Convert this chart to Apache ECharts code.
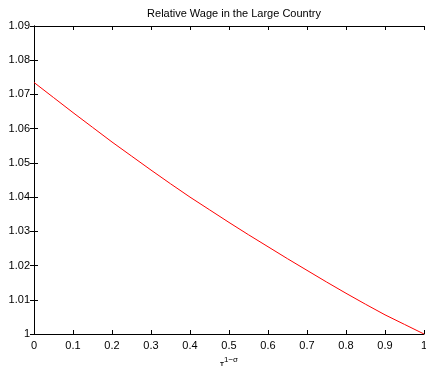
<!DOCTYPE html>
<html>
<head>
<meta charset="utf-8">
<script src="https://cdn.jsdelivr.net/npm/echarts@6/dist/echarts.min.js"></script>
<style>
html,body{margin:0;padding:0;background:#fff;}
#c{width:426px;height:366px;}
</style>
</head>
<body>
<div id="c"></div>
<script>
const titleText = "Relative Wage in the Large Country";
const xValues = [0, 0.05, 0.1, 0.15, 0.2, 0.25, 0.3, 0.35, 0.4, 0.45, 0.5, 0.55, 0.6, 0.65, 0.7, 0.75, 0.8, 0.85, 0.9, 0.95, 1.0];
const wageValues = [1.0735, 1.0691, 1.0647, 1.0604, 1.0561, 1.0520, 1.0479, 1.0439, 1.0400, 1.0363, 1.0326, 1.0290, 1.0255, 1.0220, 1.0186, 1.0152, 1.0119, 1.0087, 1.0056, 1.0028, 1.0000];
const xMin = 0, xMax = 1, xStep = 0.1;
const yMin = 1, yMax = 1.09, yStep = 0.01;

const chart = echarts.init(document.getElementById('c'), null, {renderer: 'canvas'});
const font = 'Liberation Sans, Arial, Helvetica, sans-serif';
const lineStyle = {color: '#000', width: 1};
const tick = {show: true, inside: true, length: 4, lineStyle: {color: '#000', width: 1}};

chart.setOption({
  animation: false,
  backgroundColor: '#fff',
  title: {
    text: titleText,
    left: 229, top: 3, textAlign: 'center',
    textStyle: {fontFamily: font, fontSize: 11, fontWeight: 'normal', color: '#000'}
  },
  grid: {left: 34, right: 2, top: 26, bottom: 32, containLabel: false, outerBoundsMode: 'none'},
  xAxis: [{
    type: 'value', position: 'bottom', min: xMin, max: xMax, interval: xStep,
    axisLine: {show: true, lineStyle: lineStyle},
    axisTick: tick,
    splitLine: {show: false},
    axisLabel: {fontFamily: font, fontSize: 11, color: '#000', margin: 6},
    name: '{t|τ}{s|1−σ}',
    nameLocation: 'middle', nameGap: 12,
    nameTextStyle: {
      fontFamily: font, color: '#000',
      rich: {
        t: {fontFamily: font, fontSize: 10, color: '#000', padding: [6, 0, 0, 0]},
        s: {fontFamily: font, fontSize: 8, color: '#000', padding: [0, 0, 4, 0]}
      }
    }
  }, {
    type: 'value', position: 'top', min: xMin, max: xMax, interval: xStep,
    axisLine: {show: true, lineStyle: lineStyle},
    axisTick: tick, axisLabel: {show: false}, splitLine: {show: false}
  }],
  yAxis: [{
    type: 'value', position: 'left', min: yMin, max: yMax, interval: yStep,
    axisLine: {show: true, lineStyle: lineStyle},
    axisTick: tick,
    splitLine: {show: false},
    axisLabel: {fontFamily: font, fontSize: 11, color: '#000', margin: 4,
      formatter: v => String(Math.round(v * 100) / 100)}
  }, {
    type: 'value', position: 'right', min: yMin, max: yMax, interval: yStep,
    axisLine: {show: true, lineStyle: lineStyle},
    axisTick: tick, axisLabel: {show: false}, splitLine: {show: false}
  }],
  series: [{
    type: 'line',
    data: xValues.map((x, i) => [x, wageValues[i]]),
    showSymbol: false,
    lineStyle: {color: '#ff0000', width: 1},
    itemStyle: {color: '#ff0000'},
    silent: true
  }]
});
</script>
</body>
</html>
